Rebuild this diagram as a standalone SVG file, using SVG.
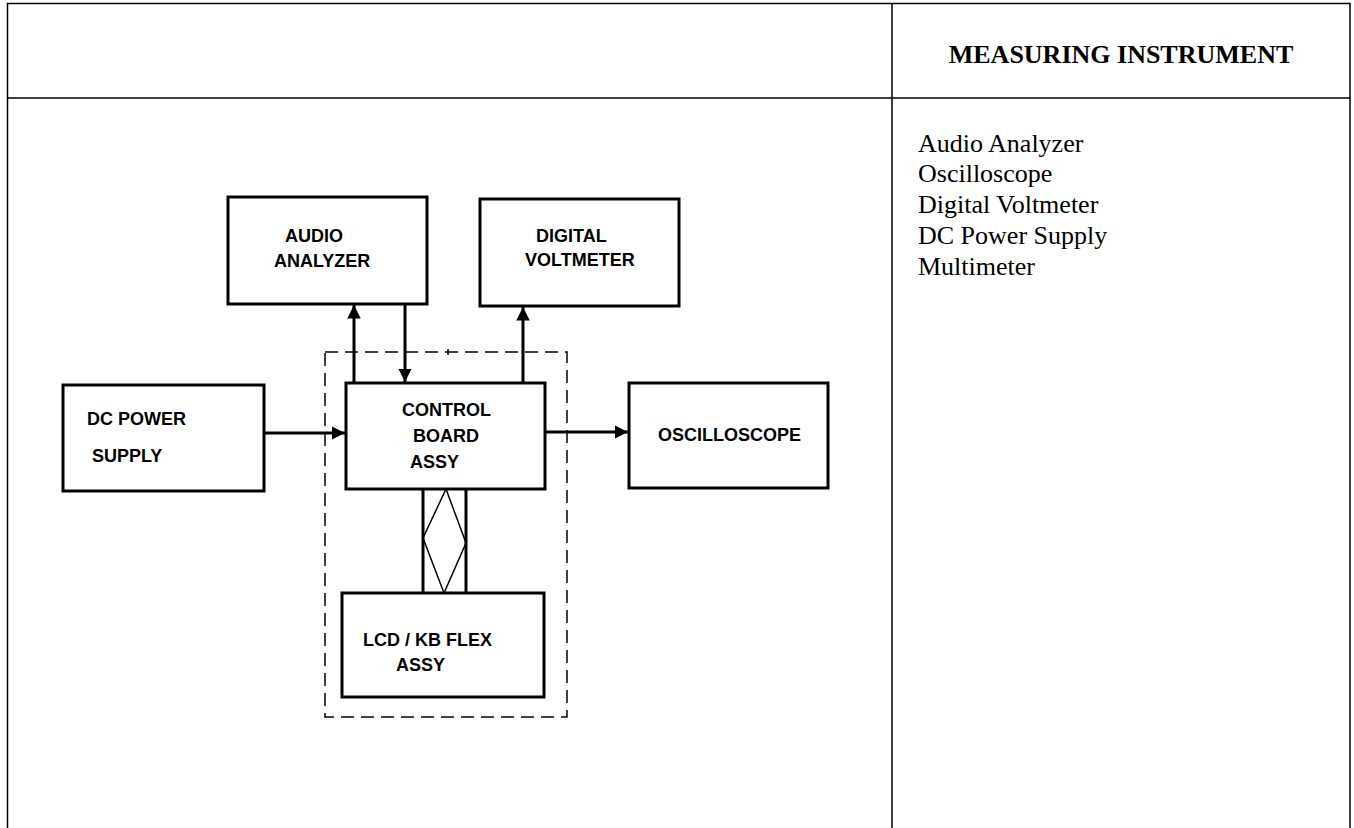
<svg xmlns="http://www.w3.org/2000/svg" width="1354" height="828" viewBox="0 0 1354 828">
<style>
.tbl{stroke:#000;stroke-width:1.5;fill:none}
.box{fill:#fff;stroke:#000;stroke-width:3}
.lbl{font-family:"Liberation Sans",Arial,sans-serif;font-weight:bold;font-size:18px;fill:#000}
.hdr{font-family:"Liberation Serif","Times New Roman",serif;font-weight:bold;font-size:26px;fill:#000}
.lst{font-family:"Liberation Serif","Times New Roman",serif;font-size:26px;fill:#000}
.conn{stroke:#000;stroke-width:3;fill:none}
.dash{stroke:#000;stroke-width:1.5;fill:none;stroke-dasharray:13 7}
.thin{stroke:#000;stroke-width:1.5;fill:none}
</style>
<defs>
<marker id="arr" viewBox="0 0 10 10" refX="10" refY="5" markerWidth="4.5" markerHeight="4.5" markerUnits="strokeWidth" orient="auto">
<path d="M0,0 L10,5 L0,10 z" fill="#000"/>
</marker>
</defs>
<rect width="1354" height="828" fill="#fff"/>
<g id="table">
<path class="tbl" d="M7.5,828 V3.5 H1350 V828 M7.5,98 H1350 M892,3.5 V828"/>
<text class="hdr" x="1121" y="63" text-anchor="middle">MEASURING INSTRUMENT</text>
<text class="lst" x="918" y="152">Audio Analyzer</text>
<text class="lst" x="918" y="182">Oscilloscope</text>
<text class="lst" x="918" y="213">Digital Voltmeter</text>
<text class="lst" x="918" y="244">DC Power Supply</text>
<text class="lst" x="918" y="275">Multimeter</text>
</g>
<g id="dashed-boundary">
<rect class="dash" x="325" y="352" width="242" height="365"/>
<line class="thin" x1="448" y1="349" x2="448" y2="355"/>
</g>
<g id="connectors">
<line class="conn" x1="354" y1="383" x2="354" y2="305" marker-end="url(#arr)"/>
<line class="conn" x1="405" y1="304" x2="405" y2="382" marker-end="url(#arr)"/>
<line class="conn" x1="523" y1="383" x2="523" y2="307" marker-end="url(#arr)"/>
<line class="conn" x1="264" y1="433" x2="345" y2="433" marker-end="url(#arr)"/>
<line class="conn" x1="545" y1="432" x2="628" y2="432" marker-end="url(#arr)"/>
<path class="conn" d="M423,489 V593 M466,489 V593"/>
<path class="thin" d="M446,489 L423,538 L444,593 L466,543 Z"/>
</g>
<g id="audio-analyzer">
<rect class="box" x="228" y="197" width="199" height="107"/>
<text class="lbl" x="285" y="242">AUDIO</text>
<text class="lbl" x="274" y="267">ANALYZER</text>
</g>
<g id="digital-voltmeter">
<rect class="box" x="480" y="199" width="199" height="107"/>
<text class="lbl" x="536" y="242">DIGITAL</text>
<text class="lbl" x="525" y="266">VOLTMETER</text>
</g>
<g id="dc-power-supply">
<rect class="box" x="63" y="385" width="201" height="106"/>
<text class="lbl" x="87" y="425">DC POWER</text>
<text class="lbl" x="92" y="462">SUPPLY</text>
</g>
<g id="control-board">
<rect class="box" x="346" y="383" width="199" height="106"/>
<text class="lbl" x="402" y="416">CONTROL</text>
<text class="lbl" x="413" y="442">BOARD</text>
<text class="lbl" x="410" y="468">ASSY</text>
</g>
<g id="oscilloscope">
<rect class="box" x="629" y="383" width="199" height="105"/>
<text class="lbl" x="658" y="441">OSCILLOSCOPE</text>
</g>
<g id="lcd-kb-flex">
<rect class="box" x="342" y="593" width="202" height="104"/>
<text class="lbl" x="363" y="646">LCD / KB FLEX</text>
<text class="lbl" x="396" y="671">ASSY</text>
</g>
</svg>
